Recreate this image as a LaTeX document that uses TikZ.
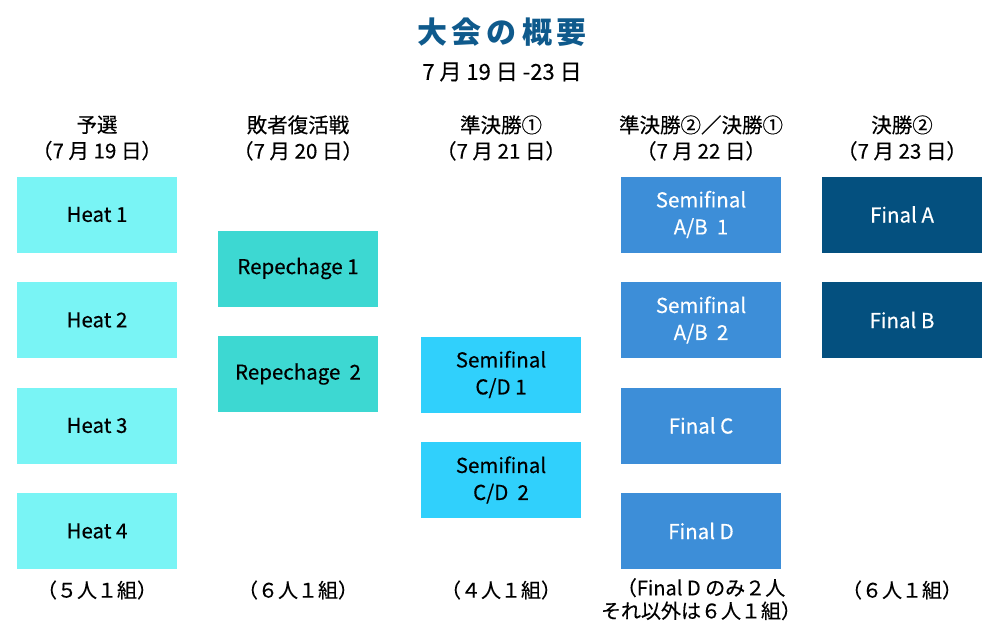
\documentclass[tikz,border=0pt]{standalone}
\usepackage{fontspec}
\setmainfont{Noto Sans CJK JP}[FakeBold=0.35]
\newfontfamily\titlefont{Noto Sans CJK JP}
\definecolor{heatc}{HTML}{79F4F5}
\definecolor{repc}{HTML}{3DD8D2}
\definecolor{sfcdc}{HTML}{30D0FC}
\definecolor{abc}{HTML}{3D8ED8}
\definecolor{finc}{HTML}{04507F}
\definecolor{titc}{HTML}{0F5A8C}
\tikzset{
  racebox/.style={minimum width=160pt, minimum height=76pt, inner sep=0pt, draw=none, align=center, font=\fontsize{20.5}{27}\selectfont},
  heatbox/.style={racebox, fill=heatc, text=black},
  repbox/.style={racebox, fill=repc, text=black},
  sfcdbox/.style={racebox, fill=sfcdc, text=black},
  abbox/.style={racebox, fill=abc, text=white},
  finbox/.style={racebox, fill=finc, text=white},
  hdr/.style={align=center, font=\fontsize{20.5}{26}\selectfont, text=black, inner sep=0pt},
  foot/.style={align=center, font=\fontsize{20}{23}\selectfont, text=black, inner sep=0pt},
}
\begin{document}
\begin{tikzpicture}[x=1pt, y=-1pt]
\useasboundingbox (0,0) rectangle (1000,640);
\node[font=\titlefont\bfseries\fontsize{30}{34}\selectfont, text=titc, inner sep=0pt] (title) at (502,32) {大\,会\,の\,概\,要};
\node[font=\fontsize{22}{24}\selectfont, inner sep=0pt] (dates) at (502,72) {7 月 19 日 -23 日};

\node[hdr] (h1) at (97,138) {予選\\（7 月 19 日）};
\node[hdr] (h2) at (298,138) {敗者復活戦\\（7 月 20 日）};
\node[hdr] (h3) at (501,138) {準決勝①\\（7 月 21 日）};
\node[hdr] (h4) at (701,138) {準決勝②／決勝①\\（7 月 22 日）};
\node[hdr] (h5) at (902,138) {決勝②\\（7 月 23 日）};

\node[heatbox] (heat1) at (97,214.5) {Heat 1};
\node[heatbox] (heat2) at (97,320) {Heat 2};
\node[heatbox] (heat3) at (97,425.5) {Heat 3};
\node[heatbox] (heat4) at (97,531) {Heat 4};

\node[repbox] (rep1) at (298,268.5) {Repechage 1};
\node[repbox] (rep2) at (298,374) {Repechage\ \ 2};

\node[sfcdbox] (sfcd1) at (501,374.5) {Semifinal\\C/D 1};
\node[sfcdbox] (sfcd2) at (501,480) {Semifinal\\C/D\ \ 2};

\node[abbox] (sfab1) at (701,214.5) {Semifinal\\A/B\ \ 1};
\node[abbox] (sfab2) at (701,320) {Semifinal\\A/B\ \ 2};
\node[abbox] (finC) at (701,425.5) {Final C};
\node[abbox] (finD) at (701,531) {Final D};

\node[finbox] (finA) at (902,214.5) {Final A};
\node[finbox] (finB) at (902,320) {Final B};

\node[foot] (f1) at (97,590) {（５人１組）};
\node[foot] (f2) at (298,590) {（６人１組）};
\node[foot] (f3) at (501,590) {（４人１組）};
\node[foot, anchor=north] (f4) at (701,578) {（Final D のみ２人\\それ以外は６人１組）};
\node[foot] (f5) at (902,590) {（６人１組）};
\end{tikzpicture}
\end{document}
